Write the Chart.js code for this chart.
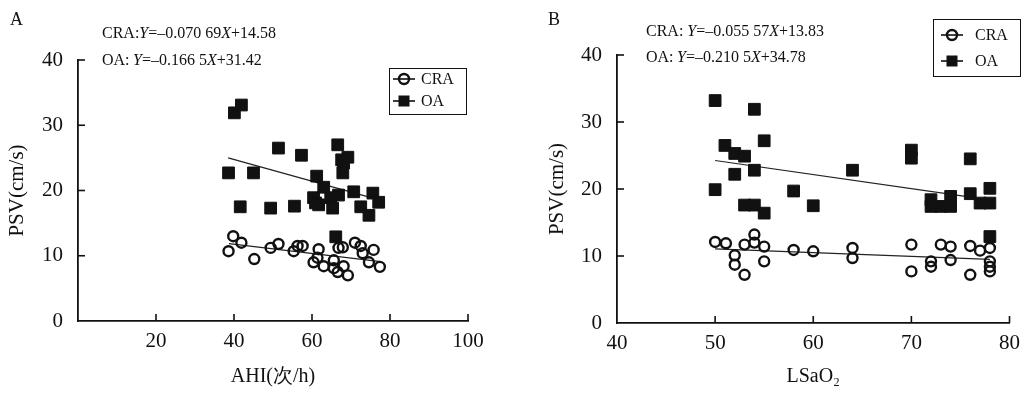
<!DOCTYPE html>
<html>
<head>
<meta charset="utf-8">
<script src="https://cdn.jsdelivr.net/npm/chart.js@4/dist/chart.umd.min.js"></script>
<style>
  html, body { margin: 0; padding: 0; background: #fff; }
  body { width: 1028px; height: 394px; position: relative; overflow: hidden;
         font-family: "Liberation Serif", "Times New Roman", serif; color: #111; }
  .panel { position: absolute; top: 0; height: 394px; }
  .txt { position: absolute; white-space: nowrap; line-height: 1; }
  .tag { font-size: 18px; }
  .eq { font-size: 16px; }
</style>
</head>
<body>
<div class="panel" style="left:0;width:520px"><canvas id="chartA" width="520" height="394"></canvas></div>
<div class="panel" style="left:520px;width:508px"><canvas id="chartB" width="508" height="394"></canvas></div>

<div class="txt tag" style="left:10px;top:10px">A</div>
<div class="txt eq" style="left:102px;top:25px">CRA:<i>Y</i>=–0.070 69<i>X</i>+14.58</div>
<div class="txt eq" style="left:102px;top:52px">OA:</div>
<div class="txt eq" style="left:133px;top:52px"><i>Y</i>=–0.166 5<i>X</i>+31.42</div>

<div class="txt tag" style="left:548px;top:10px">B</div>
<div class="txt eq" style="left:646px;top:23px">CRA: <i>Y</i>=–0.055 57<i>X</i>+13.83</div>
<div class="txt eq" style="left:646px;top:49px">OA:</div>
<div class="txt eq" style="left:677px;top:49px"><i>Y</i>=–0.210 5<i>X</i>+34.78</div>

<script>
// panel A: AHI vs PSV
const ahiCraX = [39.8, 38.6, 41.9, 45.2, 49.4, 51.4, 55.3, 56.3, 57.6, 60.4, 61.7, 61.4, 63.0, 65.6, 65.6, 66.6, 66.8, 67.9, 68.1, 69.2, 71.0, 72.5, 73.0, 74.6, 75.8, 77.4];
const ahiCraY = [13.0, 10.7, 12.0, 9.5, 11.2, 11.8, 10.7, 11.5, 11.5, 9.0, 11.0, 9.7, 8.4, 9.3, 8.1, 7.5, 11.2, 11.3, 8.4, 7.0, 12.0, 11.5, 10.4, 9.0, 10.9, 8.3];
const ahiOaX = [38.6, 40.1, 41.9, 41.6, 45.0, 49.4, 51.4, 55.5, 57.3, 61.2, 60.4, 60.9, 63.0, 61.7, 64.8, 65.3, 66.1, 66.6, 67.6, 69.2, 68.1, 67.9, 66.8, 70.7, 72.5, 74.6, 75.6, 77.1];
const ahiOaY = [22.7, 31.9, 33.1, 17.5, 22.7, 17.3, 26.5, 17.6, 25.4, 22.2, 18.9, 18.1, 20.5, 17.8, 18.9, 17.3, 12.9, 27.0, 24.7, 25.1, 24.2, 22.7, 19.3, 19.8, 17.5, 16.2, 19.6, 18.2];
const ahiCraFitX = [38.7, 77.6];
const ahiCraFitY = [11.85, 9.1];
const ahiOaFitX = [38.5, 77.0];
const ahiOaFitY = [25.0, 18.6];
const ahiTicks = [0, 20, 40, 60, 80, 100];

// panel B: LSaO2 vs PSV
const lsaCraX = [50, 51.1, 52, 52, 53, 53, 54, 54, 55, 55, 58, 60, 64, 64, 70, 70, 72, 72, 73, 74, 74, 76, 76, 77, 78, 78, 78, 78];
const lsaCraY = [12.1, 11.9, 10.1, 8.7, 7.2, 11.7, 13.2, 12.0, 11.4, 9.2, 10.9, 10.7, 11.2, 9.7, 11.7, 7.7, 9.2, 8.4, 11.7, 11.4, 9.4, 11.5, 7.2, 10.8, 11.2, 9.2, 8.4, 7.7];
const lsaOaX = [50, 54, 55, 51, 52, 53, 54, 52, 50, 58, 53, 54, 55, 60, 64, 70, 70, 76, 72, 72, 73, 74, 74, 76, 78, 77, 78, 78];
const lsaOaY = [33.2, 31.9, 27.2, 26.5, 25.3, 24.9, 22.8, 22.2, 19.9, 19.7, 17.6, 17.6, 16.4, 17.5, 22.8, 25.8, 24.6, 24.5, 18.4, 17.4, 17.4, 18.9, 17.4, 19.3, 20.1, 17.9, 17.9, 12.9];
const lsaCraFitX = [50, 78];
const lsaCraFitY = [11.05, 9.49];
const lsaOaFitX = [50, 75.5];
const lsaOaFitY = [24.25, 18.9];
const lsaTicks = [40, 50, 60, 70, 80];

const psvTicks = [0, 10, 20, 30, 40];

const fontfam = '"Liberation Serif", "Times New Roman", serif';
const ink = '#111';

const pts = (xs, ys) => xs.map((x, i) => ({x: x, y: ys[i]}));

// ticks point into the plot, like the original
const innerTicks = {
    id: 'innerTicks',
    afterDraw(chart) {
        const {ctx, chartArea, scales: {x, y}} = chart;
        ctx.save();
        ctx.strokeStyle = ink;
        ctx.lineWidth = 1.6;
        for(const t of x.ticks) {
            if(t.value === x.min) continue;
            const px = x.getPixelForValue(t.value);
            ctx.beginPath();
            ctx.moveTo(px, chartArea.bottom);
            ctx.lineTo(px, chartArea.bottom - 7);
            ctx.stroke();
        }
        for(const t of y.ticks) {
            if(t.value === y.min) continue;
            const py = y.getPixelForValue(t.value);
            ctx.beginPath();
            ctx.moveTo(chartArea.left, py);
            ctx.lineTo(chartArea.left + 7, py);
            ctx.stroke();
        }
        ctx.restore();
    }
};

// boxed legend in the corner
const boxLegend = {
    id: 'boxLegend',
    afterDraw(chart, args, opts) {
        const {ctx} = chart;
        ctx.save();
        ctx.strokeStyle = ink;
        ctx.lineWidth = 1;
        ctx.strokeRect(opts.left + 0.5, opts.top + 0.5, opts.width, opts.height);
        const items = chart.data.datasets.filter(d => d.inLegend);
        items.forEach((d, i) => {
            const cy = opts.top + opts.firstRow + i * opts.rowGap;
            const cx = opts.left + opts.markX;
            ctx.strokeStyle = ink;
            ctx.lineWidth = 1.6;
            ctx.beginPath();
            ctx.moveTo(cx - 11, cy);
            ctx.lineTo(cx + 11, cy);
            ctx.stroke();
            if(d.pointStyle === 'rect') {
                ctx.fillStyle = ink;
                ctx.fillRect(cx - 5.5, cy - 5.5, 11, 11);
            } else {
                ctx.lineWidth = 2.4;
                ctx.beginPath();
                ctx.arc(cx, cy, 5, 0, Math.PI * 2);
                ctx.stroke();
            }
            ctx.fillStyle = ink;
            ctx.font = `16px ${fontfam}`;
            ctx.textBaseline = 'middle';
            ctx.textAlign = 'left';
            ctx.fillText(d.label, opts.left + opts.textX, cy + 1);
        });
        ctx.restore();
    }
};

const scatterSet = (label, data, style) => ({
    type: 'scatter',
    label: label,
    data: data,
    inLegend: true,
    pointStyle: style,
    pointRadius: style === 'rect' ? 8.3 : 5,
    pointHoverRadius: style === 'rect' ? 8.3 : 5,
    borderWidth: style === 'rect' ? 1 : 2.4,
    borderColor: ink,
    backgroundColor: style === 'rect' ? ink : 'rgba(0,0,0,0)',
    order: 1
});

const fitSet = (data) => ({
    type: 'line',
    label: '',
    data: data,
    inLegend: false,
    borderColor: '#222',
    borderWidth: 1.2,
    pointRadius: 0,
    fill: false,
    order: 2
});

const makeChart = (canvas, cfg) => new Chart(canvas, {
    type: 'scatter',
    data: {
        datasets: [
            scatterSet('CRA', pts(cfg.craX, cfg.craY), 'circle'),
            scatterSet('OA', pts(cfg.oaX, cfg.oaY), 'rect'),
            fitSet(pts(cfg.craFitX, cfg.craFitY)),
            fitSet(pts(cfg.oaFitX, cfg.oaFitY))
        ]
    },
    options: {
        responsive: false,
        animation: false,
        devicePixelRatio: 1,
        layout: {padding: cfg.padding},
        plugins: {
            legend: {display: false},
            tooltip: {enabled: false},
            boxLegend: cfg.legend
        },
        scales: {
            x: {
                type: 'linear',
                min: cfg.xTicks[0],
                max: cfg.xTicks[cfg.xTicks.length - 1],
                afterFit: s => { s.height = cfg.xHeight; },
                afterBuildTicks: s => { s.ticks = cfg.xTicks.map(v => ({value: v})); },
                grid: {display: false, drawTicks: false},
                border: {display: true, color: ink, width: 1.8},
                ticks: {
                    padding: 8,
                    color: ink,
                    font: {family: fontfam, size: 21},
                    callback: v => (cfg.hideZero && v === 0) ? '' : v
                },
                title: {
                    display: true,
                    text: cfg.xTitle,
                    color: ink,
                    font: {family: fontfam, size: 20},
                    padding: {top: 0, bottom: 5}
                }
            },
            y: {
                type: 'linear',
                min: 0,
                max: 40,
                afterFit: s => { s.width = cfg.yWidth; },
                afterBuildTicks: s => { s.ticks = psvTicks.map(v => ({value: v})); },
                grid: {display: false, drawTicks: false},
                border: {display: true, color: ink, width: 1.8},
                ticks: {
                    padding: 15,
                    color: ink,
                    font: {family: fontfam, size: 21}
                },
                title: {
                    display: true,
                    text: 'PSV(cm/s)',
                    color: ink,
                    font: {family: fontfam, size: 21},
                    padding: {top: cfg.yTitlePad, bottom: 0}
                }
            }
        }
    },
    plugins: [innerTicks, boxLegend]
});

makeChart(document.getElementById('chartA'), {
    craX: ahiCraX, craY: ahiCraY, oaX: ahiOaX, oaY: ahiOaY,
    craFitX: ahiCraFitX, craFitY: ahiCraFitY, oaFitX: ahiOaFitX, oaFitY: ahiOaFitY,
    xTicks: ahiTicks, hideZero: true,
    xTitle: 'AHI(次/h)',
    padding: {top: 60, right: 52, bottom: 0, left: 0},
    xHeight: 73, yWidth: 78, yTitlePad: 5,
    legend: {left: 389, top: 68, width: 77, height: 46, firstRow: 11, rowGap: 22, markX: 15, textX: 32}
});

makeChart(document.getElementById('chartB'), {
    craX: lsaCraX, craY: lsaCraY, oaX: lsaOaX, oaY: lsaOaY,
    craFitX: lsaCraFitX, craFitY: lsaCraFitY, oaFitX: lsaOaFitX, oaFitY: lsaOaFitY,
    xTicks: lsaTicks, hideZero: false,
    xTitle: 'LSaO₂',
    padding: {top: 55, right: 11, bottom: 0, left: 0},
    xHeight: 71, yWidth: 97, yTitlePad: 25,
    legend: {left: 413, top: 19, width: 87, height: 57, firstRow: 16, rowGap: 26, markX: 19, textX: 42}
});
</script>
</body>
</html>
